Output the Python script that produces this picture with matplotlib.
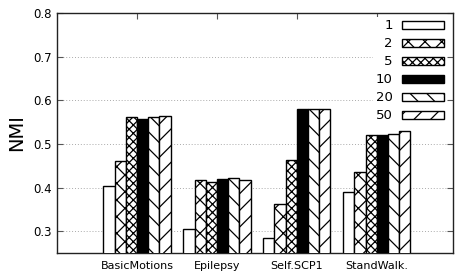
import matplotlib
matplotlib.use('Agg')
import matplotlib.pyplot as plt
import numpy as np

datasets = ['BasicMotions', 'Epilepsy', 'Self.SCP1', 'StandWalk.']
series_labels = ['1', '2', '5', '10', '20', '50']
nmi_1 = [0.403, 0.305, 0.285, 0.390]
nmi_2 = [0.460, 0.417, 0.363, 0.436]
nmi_5 = [0.562, 0.413, 0.464, 0.521]
nmi_10 = [0.557, 0.420, 0.581, 0.521]
nmi_20 = [0.562, 0.422, 0.581, 0.523]
nmi_50 = [0.564, 0.417, 0.580, 0.529]
yticks = [0.3, 0.4, 0.5, 0.6, 0.7, 0.8]

series = [nmi_1, nmi_2, nmi_5, nmi_10, nmi_20, nmi_50]
faces = ['white', 'white', 'white', 'black', 'white', 'white']
hatches = [None, 'xx', 'xxxx', None, '\\\\', '//']

plt.rcParams['hatch.linewidth'] = 0.9
plt.rcParams['font.family'] = 'DejaVu Sans'

fig = plt.figure(figsize=(4.56, 2.73), dpi=100)
ax = fig.add_axes([0.125, 0.0733, 0.868, 0.879])

x = np.arange(len(datasets))
width = 0.14
for i, vals in enumerate(series):
    ax.bar(x + (i - 2.5) * width, vals, width, color=faces[i], edgecolor='black',
           hatch=hatches[i], linewidth=1.0, label=series_labels[i], zorder=3)

ax.set_xlim(-1, 3.95)
ax.set_ylim(0.25, 0.8)
ax.set_yticks(yticks)
ax.set_yticklabels(['%.1f' % t for t in yticks], fontsize=8.5)
ax.set_xticks(x)
ax.set_xticklabels(datasets, fontsize=8)
ax.tick_params(direction='in', length=4, color='#555555', top=True, right=True,
               pad=4)
ax.tick_params(axis='x', bottom=False, pad=6)
ax.yaxis.grid(True, linestyle=(0, (1, 2)), color='#aaaaaa', linewidth=0.7, zorder=0)
for s in ax.spines.values():
    s.set_color('#222222')
    s.set_linewidth(1.0)

ax.set_ylabel('NMI', fontsize=14, labelpad=5)

leg = ax.legend(loc='upper right', bbox_to_anchor=(0.985, 0.985), fontsize=9.5,
                markerfirst=False, handlelength=3.2, handleheight=0.55,
                labelspacing=0.38, handletextpad=0.7, borderpad=0.2,
                borderaxespad=0, frameon=True, fancybox=False, framealpha=1)
leg.get_frame().set_edgecolor('white')
leg.get_frame().set_linewidth(0)
leg.set_zorder(5)

fig.savefig('out.png', dpi=100)
